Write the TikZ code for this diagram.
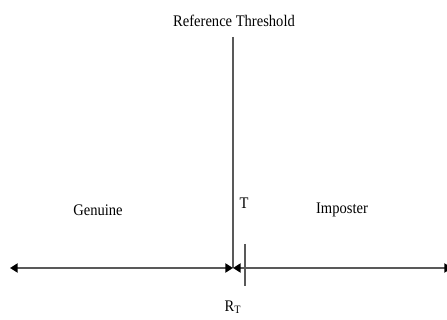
\documentclass[tikz,border=0pt]{standalone}
\usepackage{fontspec}
\setmainfont{Liberation Serif}
\usetikzlibrary{arrows.meta}

\begin{document}
\begin{tikzpicture}[
        x=0.025cm, y=-0.025cm,
        >={Triangle[length=5.5pt, width=6.5pt, color=black]},
        axis/.style={draw=black!65, line width=1.5pt},
        lbl/.style={font=\fontsize{11.5}{13}\selectfont, inner sep=0pt, xscale=0.9}
    ]
    \useasboundingbox (0,0) rectangle (447,320);

    % Threshold line
    \coordinate (top) at (233,37);
    \coordinate (mid) at (233,268);
    \node[lbl] (ref) at (234,21) {Reference Threshold};
    \draw[axis] (top) -- (mid);

    % Score axis
    \coordinate (left) at (10,268);
    \coordinate (right) at (452,268);
    \draw[axis, <->] (left) -- (mid);
    \draw[axis, <->] (mid) -- (right);

    % Tick
    \coordinate (tickA) at (245,244);
    \coordinate (tickB) at (245,286);
    \draw[axis, line width=1.2pt] (tickA) -- (tickB);

    % Labels
    \node[lbl] (genuine) at (98,210) {Genuine};
    \node[lbl] (imposter) at (342,210) {Imposter};
    \node[lbl] (T) at (244,203) {T};
    \node[lbl] (RT) at (233,307) {R\textsubscript{T}};
\end{tikzpicture}
\end{document}
